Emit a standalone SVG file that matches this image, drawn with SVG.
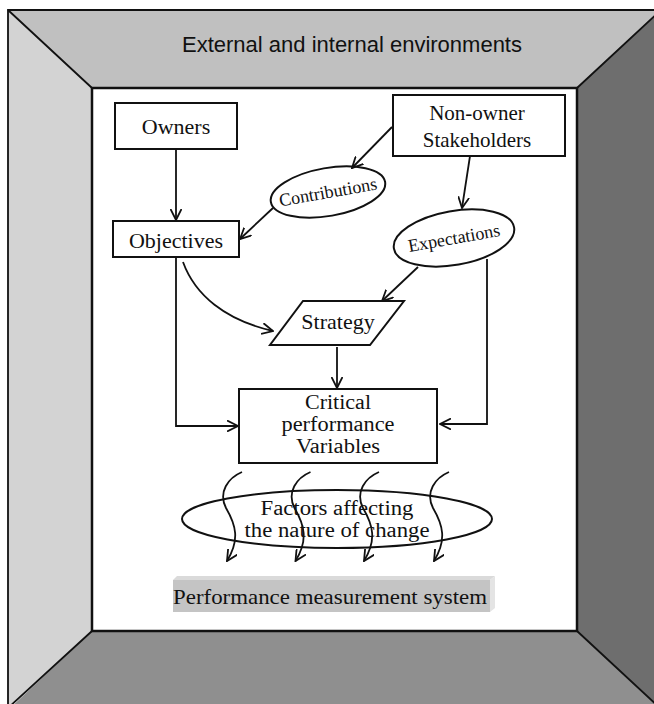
<svg xmlns="http://www.w3.org/2000/svg" width="654" height="704" viewBox="0 0 654 704">
<style>
.serif{font-family:"Liberation Serif","Times New Roman",serif;fill:#111;text-anchor:middle}
.box{fill:#fff;stroke:#111;stroke-width:2}
.con{fill:none;stroke:#111;stroke-width:1.8}
.edge{stroke:#111;stroke-width:1.8;fill:none}
</style>
<defs>
<marker id="arr" viewBox="0 0 12 12" refX="11" refY="6" markerWidth="12" markerHeight="12" markerUnits="userSpaceOnUse" orient="auto">
<path d="M0,0.5 L11,6 L0,11.5" fill="none" stroke="#111" stroke-width="1.8"/>
</marker>
</defs>
<rect width="654" height="704" fill="#fff"/>
<g id="frame">
<polygon points="8,10 92,88 92,631 8,708" fill="#d3d3d3"/>
<polygon points="8,10 662,10 577,88 92,88" fill="#c0c0c0"/>
<polygon points="662,10 662,710 577,631 577,88" fill="#6e6e6e"/>
<polygon points="92,631 577,631 662,710 8,710" fill="#8f8f8f"/>
<path class="edge" d="M8,10 L92,88 M92,631 L8,708 M577,631 L660,708 M577,88 L662,9"/>
<path class="edge" d="M8,708 L8,10 L662,10"/>
<rect x="92" y="88" width="485" height="543" fill="#fff" stroke="#111" stroke-width="2.5"/>
<text x="352" y="52" font-family="Liberation Sans, Arial, sans-serif" font-size="22" fill="#111" text-anchor="middle">External and internal environments</text>
</g>
<g id="owners">
<rect class="box" x="115" y="103" width="122" height="46"/>
<text class="serif" x="176" y="134" font-size="22">Owners</text>
</g>
<g id="nonowner">
<rect class="box" x="393" y="95" width="172" height="61"/>
<text class="serif" x="477" y="120" font-size="21">Non-owner</text>
<text class="serif" x="477" y="147" font-size="21">Stakeholders</text>
</g>
<g id="contributions">
<ellipse cx="328" cy="192" rx="58" ry="24" transform="rotate(-10 328 192)" fill="#fff" stroke="#111" stroke-width="2"/>
<text class="serif" x="328" y="198" font-size="18" transform="rotate(-10 328 192)">Contributions</text>
</g>
<g id="objectives">
<rect class="box" x="113" y="221" width="126" height="36"/>
<text class="serif" x="176" y="248" font-size="22">Objectives</text>
</g>
<g id="expectations">
<ellipse cx="454" cy="238" rx="61" ry="27" transform="rotate(-10 454 238)" fill="#fff" stroke="#111" stroke-width="2"/>
<text class="serif" x="454" y="244" font-size="18" transform="rotate(-10 454 238)">Expectations</text>
</g>
<g id="strategy">
<polygon points="303,301 404,301 370,345 270,345" fill="#fff" stroke="#111" stroke-width="2"/>
<text class="serif" x="338" y="329" font-size="22">Strategy</text>
</g>
<g id="critical">
<rect class="box" x="239" y="389" width="198" height="74"/>
<text class="serif" x="338" y="409" font-size="20" textLength="66" lengthAdjust="spacingAndGlyphs">Critical</text>
<text class="serif" x="338" y="431" font-size="20" textLength="113" lengthAdjust="spacingAndGlyphs">performance</text>
<text class="serif" x="338" y="453" font-size="20" textLength="84" lengthAdjust="spacingAndGlyphs">Variables</text>
</g>
<g id="factors">
<ellipse cx="337" cy="519" rx="155" ry="29" fill="none" stroke="#111" stroke-width="2"/>
<text class="serif" x="337" y="515" font-size="20" textLength="153" lengthAdjust="spacingAndGlyphs">Factors affecting</text>
<text class="serif" x="337" y="537" font-size="20" textLength="185" lengthAdjust="spacingAndGlyphs">the nature of change</text>
</g>
<g id="pms">
<rect x="173" y="580" width="317" height="32" fill="#c4c4c4"/>
<polygon points="173,580 177,576 495,576 490,580" fill="#dadada"/>
<polygon points="490,580 495,576 495,608 490,612" fill="#e4e4e4"/>
<text class="serif" x="330" y="604" font-size="22" textLength="314" lengthAdjust="spacingAndGlyphs">Performance measurement system</text>
</g>
<g id="connectors">
<path class="con" d="M176,149 L176,220" marker-end="url(#arr)"/>
<path class="con" d="M392,127 L352,168" marker-end="url(#arr)"/>
<path class="con" d="M273,208 L240,239" marker-end="url(#arr)"/>
<path class="con" d="M470,156 L462,208" marker-end="url(#arr)"/>
<path class="con" d="M418,267 L382,301" marker-end="url(#arr)"/>
<path class="con" d="M183,262 C195,295 225,320 273,331" marker-end="url(#arr)"/>
<path class="con" d="M176,257 L176,426 L238,426" marker-end="url(#arr)"/>
<path class="con" d="M337,347 L337,388" marker-end="url(#arr)"/>
<path class="con" d="M487,259 L487,424 L440,424" marker-end="url(#arr)"/>
<g id="waves">
<path class="con" d="M242,472 C228,478 218,492 226,508 C236,525 240,540 227,561" marker-end="url(#arr)"/>
<path class="con" d="M310.5,472 C296.5,478 286.5,492 294.5,508 C304.5,525 308.5,540 295.5,561" marker-end="url(#arr)"/>
<path class="con" d="M379,472 C365,478 355,492 363,508 C373,525 377,540 364,561" marker-end="url(#arr)"/>
<path class="con" d="M449,472 C435,478 425,492 433,508 C443,525 447,540 434,561" marker-end="url(#arr)"/>
</g>
</g>
</svg>
